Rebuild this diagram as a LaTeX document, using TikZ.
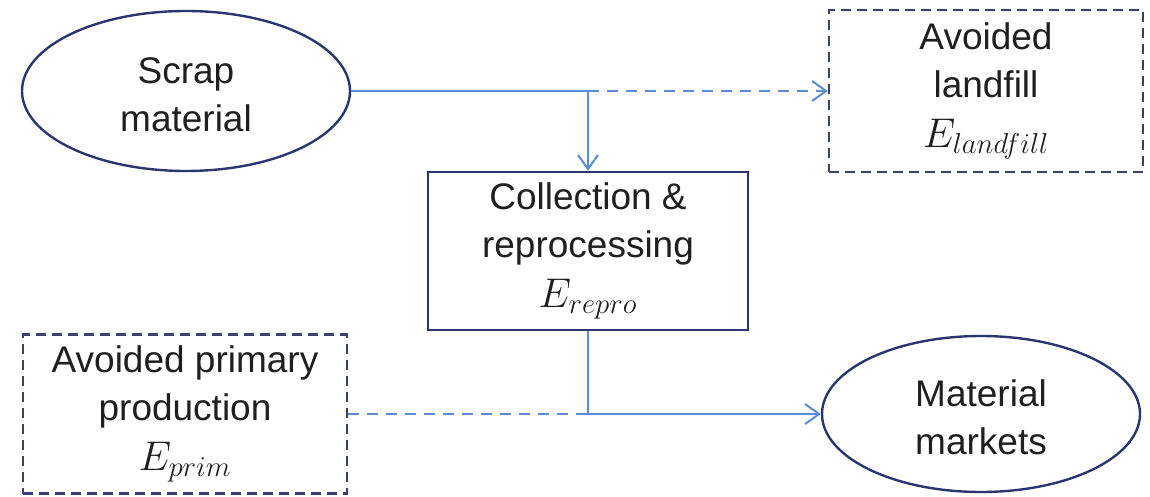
\documentclass[tikz,border=0pt]{standalone}
\usepackage{fontspec}
\setmainfont{Liberation Sans}
\usetikzlibrary{shapes.geometric,arrows.meta}
\definecolor{navy}{HTML}{2B3570}
\definecolor{flow}{HTML}{5B8BD4}
\definecolor{dashnavy}{HTML}{3A4072}
\newcommand{\mathline}[1]{{\fontsize{22}{26}\selectfont$#1$}}
\begin{document}
\begin{tikzpicture}[x=0.5pt,y=-0.5pt,
  txt/.style={font=\fontsize{18.5}{24}\selectfont, align=center, text=black!88},
  oval/.style={ellipse, draw=navy, line width=1.2pt, inner sep=0pt, txt},
  solidbox/.style={rectangle, draw=navy, line width=1.2pt, inner sep=0pt, txt},
  dashbox/.style={rectangle, draw=dashnavy, line width=1.2pt, dash pattern=on 5pt off 3pt, inner sep=0pt, txt},
  flowline/.style={draw=flow, line width=1pt},
  flowtip/.style={-{Straight Barb[length=7pt,width=10pt]}},
  dashflow/.style={flowline, dash pattern=on 5.5pt off 4pt}]
\useasboundingbox (0,0) rectangle (1150,497);
\node[oval, minimum width=164pt, minimum height=80pt] (scrap) at (186,91) {\strut Scrap\\material};
\node[dashbox, minimum width=157pt, minimum height=81pt] (landfill) at (986,91) {Avoided\\landfill\\[1pt]\mathline{E_{landfill}}};
\node[solidbox, minimum width=160pt, minimum height=79pt] (repro) at (588,251) {Collection \&\\reprocessing\\[1pt]\mathline{E_{repro}}};
\node[dashbox, minimum width=162pt, minimum height=79.5pt] (prim) at (185,414) {Avoided primary\\production\\[1pt]\mathline{E_{prim}}};
\node[oval, minimum width=159pt, minimum height=78pt] (markets) at (981,414) {\strut Material\\markets};
\coordinate (j1) at (repro.north |- scrap.east);
\coordinate (j2) at (repro.south |- markets.west);
\draw[flowline] (scrap.east) -- (j1);
\draw[dashflow, flowtip] (j1) -- (landfill.west);
\draw[flowline, flowtip] (j1) -- (repro.north);
\draw[flowline, flowtip] (repro.south) -- (j2) -- (markets.west);
\draw[dashflow] (prim.east) -- (j2);
\end{tikzpicture}
\end{document}
